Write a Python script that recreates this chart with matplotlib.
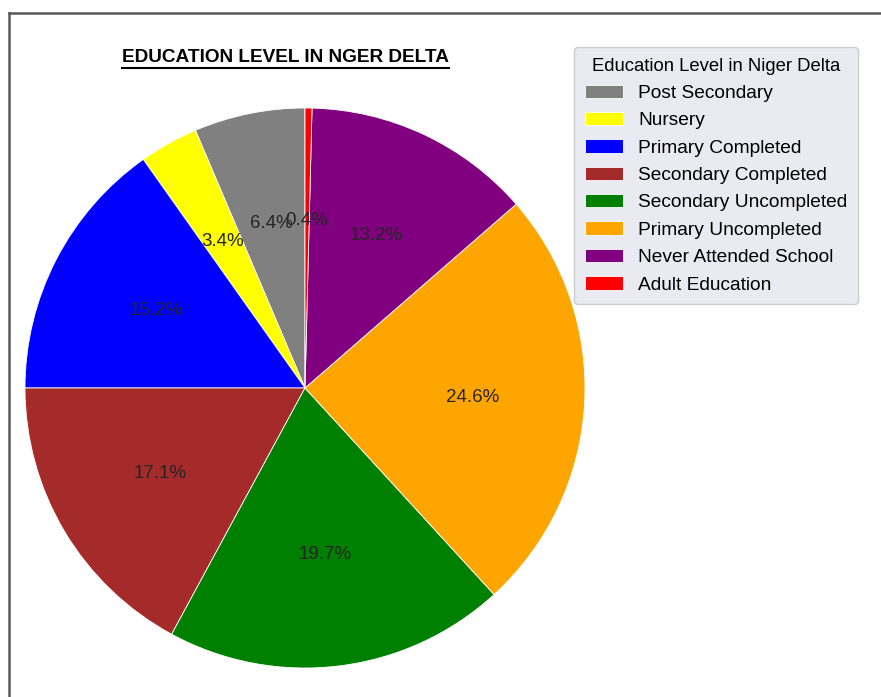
import matplotlib.pyplot as plt
from matplotlib.lines import Line2D

plt.rcParams["font.family"] = ["Liberation Sans", "DejaVu Sans"]

levels = [
    "Post Secondary",
    "Nursery",
    "Primary Completed",
    "Secondary Completed",
    "Secondary Uncompleted",
    "Primary Uncompleted",
    "Never Attended School",
    "Adult Education",
]
shares = [6.4, 3.4, 15.2, 17.1, 19.7, 24.6, 13.2, 0.4]
colors = ["gray", "yellow", "blue", "brown", "green", "orange", "purple", "red"]

title = "EDUCATION LEVEL IN NGER DELTA"
legend_title = "Education Level in Niger Delta"

W, H = 881, 697
fig = plt.figure(figsize=(W / 100, H / 100), dpi=100)
ax = fig.add_axes([25 / W, 29 / H, 560 / W, 560 / H])

wedges, _, pcts = ax.pie(
    shares,
    colors=colors,
    autopct="%1.1f%%",
    startangle=90,
    pctdistance=0.6,
    wedgeprops=dict(edgecolor="white", linewidth=0.6),
    textprops=dict(color=".15", fontsize=13.5),
)
ax.set_xlim(-1, 1)
ax.set_ylim(-1, 1)

fig.legend(
    wedges,
    levels,
    title=legend_title,
    loc="upper right",
    bbox_to_anchor=(858 / W, 1 - 47 / H),
    borderaxespad=0,
    borderpad=0.55,
    fontsize=13.8,
    title_fontsize=13.3,
    facecolor="#EAEAF2",
    edgecolor="0.8",
    framealpha=1,
    labelspacing=0.52,
    handlelength=2.0,
    handletextpad=0.8,
)

# bold title with an underline drawn under its extent
t = fig.text(285 / W, 1 - 57 / H, title, ha="center", va="center",
             fontsize=13.7, fontweight="bold", color="black")
fig.canvas.draw()
bb = t.get_window_extent(fig.canvas.get_renderer())
fig.add_artist(Line2D([bb.x0 / W, bb.x1 / W], [(bb.y0 - 2) / H] * 2,
                      transform=fig.transFigure, color="black", lw=1.5))

# outer frame along the top and left
fig.add_artist(Line2D([9 / W, 1], [1 - 13 / H] * 2, transform=fig.transFigure,
                      color="0.35", lw=1.8))
fig.add_artist(Line2D([9 / W, 9 / W], [0, 1 - 13 / H], transform=fig.transFigure,
                      color="0.35", lw=1.8))

fig.savefig("out.png", dpi=100)
